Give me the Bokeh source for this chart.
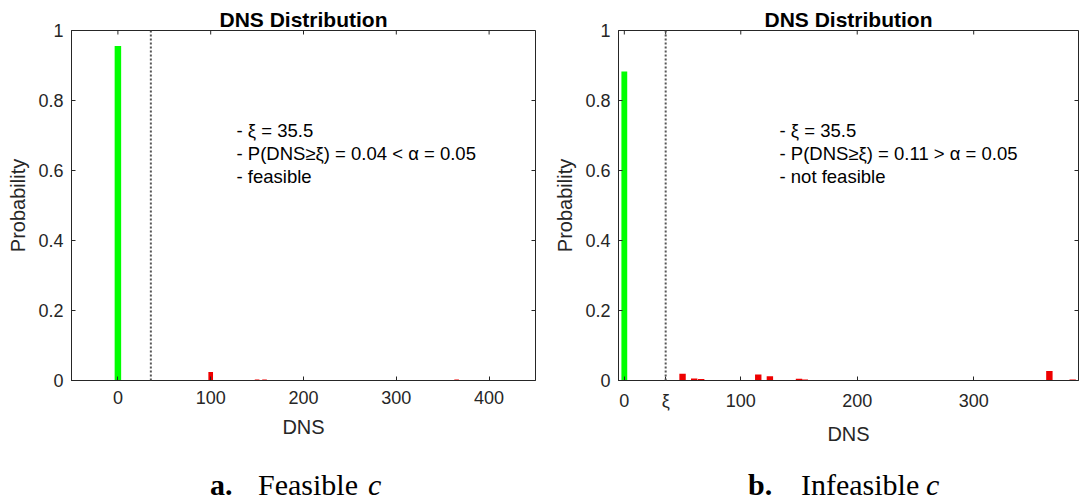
import math
from bokeh.plotting import figure
from bokeh.models import Range1d, FixedTicker, Span, Label, Div
from bokeh.layouts import row, column
from bokeh.embed import file_html
from bokeh.resources import INLINE

# ---------------- data ----------------
title_text = "DNS Distribution"
x_label = "DNS"
y_label = "Probability"
xi_value = 35.5

y_ticks = [0, 0.2, 0.4, 0.6, 0.8, 1]
y_tick_labels = ["0", "0.2", "0.4", "0.6", "0.8", "1"]

left_x_ticks = [0, 100, 200, 300, 400]
left_x_tick_labels = ["0", "100", "200", "300", "400"]
right_x_ticks = [0, 35.5, 100, 200, 300]
right_x_tick_labels = ["0", "ξ", "100", "200", "300"]

left_green_x = [0]
left_green_p = [0.956]
left_red_x = [100, 150, 158, 365]
left_red_p = [0.024, 0.003, 0.003, 0.003]

right_green_x = [0]
right_green_p = [0.883]
right_red_x = [50, 60, 66, 115, 125, 150, 155, 365, 385]
right_red_p = [0.019, 0.006, 0.004, 0.017, 0.012, 0.005, 0.003, 0.027, 0.003]

left_notes = ["- ξ = 35.5", "- P(DNS≥ξ) = 0.04 < α = 0.05", "- feasible"]
right_notes = ["- ξ = 35.5", "- P(DNS≥ξ) = 0.11 > α = 0.05", "- not feasible"]

left_caption = ["a.", "Feasible", "c"]
right_caption = ["b.", "Infeasible", "c"]

# ---------------- style ----------------
AX = "#262626"
SANS = "Liberation Sans"
GREEN = "#00ff00"
RED = "#ee0000"
FIG_H = 456
FRAME_TOP = 30
FRAME_BOTTOM = 380
FRAME_H = FRAME_BOTTOM - FRAME_TOP
CAP_H = 48


def make_panel(width, mb_left, mb_right, xr, xticks, xlabels, gx, gp, rx, rp,
               gw, rw, notes, note_x):
    p = figure(width=width, height=FIG_H, output_backend="svg", toolbar_location=None,
               x_range=Range1d(*xr), y_range=Range1d(0, 1),
               min_border_left=mb_left, min_border_right=mb_right,
               min_border_top=FRAME_TOP, min_border_bottom=FIG_H - FRAME_BOTTOM,
               background_fill_color="white", border_fill_color="white",
               outline_line_color=AX, outline_line_width=1)
    p.xgrid.visible = False
    p.ygrid.visible = False

    p.title.text = title_text
    p.title.align = "center"
    p.title.text_font = SANS
    p.title.text_font_size = "21px"
    p.title.text_font_style = "bold"
    p.title.text_color = "black"
    p.title.standoff = 0

    xover = {t: lab for t, lab in zip(xticks, xlabels)}
    yover = {t: lab for t, lab in zip(y_ticks, y_tick_labels)}

    for ax in p.xaxis:
        ax.ticker = FixedTicker(ticks=xticks)
        ax.major_label_overrides = xover
        ax.axis_label = x_label
        ax.major_label_standoff = 10
        ax.axis_label_standoff = 9
    for ax in p.yaxis:
        ax.ticker = FixedTicker(ticks=y_ticks)
        ax.major_label_overrides = yover
        ax.axis_label = y_label
        ax.major_label_standoff = 8
        ax.axis_label_standoff = 6
    for ax in list(p.xaxis) + list(p.yaxis):
        ax.axis_line_color = AX
        ax.major_tick_line_color = AX
        ax.major_tick_in = 4
        ax.major_tick_out = 0
        ax.minor_tick_line_color = None
        ax.major_label_text_font = SANS
        ax.major_label_text_font_size = "18px"
        ax.major_label_text_color = AX
        ax.axis_label_text_font = SANS
        ax.axis_label_text_font_size = "20px"
        ax.axis_label_text_font_style = "normal"
        ax.axis_label_text_color = AX

    # mirrored inward ticks on the top and right edges of the box
    p.scatter(x=xticks, y=[y_ticks[-1]] * len(xticks), marker="dash", size=8,
              angle=math.pi / 2, line_color=AX, line_width=1)
    p.scatter(x=[xr[1]] * len(y_ticks), y=y_ticks, marker="dash", size=8,
              line_color=AX, line_width=1)

    p.vbar(x=gx, top=gp, bottom=0, width=gw, fill_color=GREEN, line_color=None)
    p.vbar(x=rx, top=rp, bottom=0, width=rw, fill_color=RED, line_color=None)

    p.add_layout(Span(location=xi_value, dimension="height", line_color="#555555",
                      line_dash="2 2", line_width=2))

    for i, line in enumerate(notes):
        p.add_layout(Label(x=note_x, y=250 - 23 * i, x_units="screen", y_units="screen",
                           text=line, text_font=SANS, text_font_size="18.5px",
                           text_color="black", text_align="left",
                           text_baseline="alphabetic"))
    return p


def caption_div(parts, xs, width):
    styles = ["font-weight:bold;", "", "font-style:italic;"]
    spans = "".join(
        f'<span style="position:absolute; left:{x}px; top:14px; {st}">{t}</span>'
        for t, x, st in zip(parts, xs, styles))
    html = ('<div style="position:relative; width:%dpx; height:%dpx; margin:0; padding:0; '
            "font-family:'Liberation Serif', 'Times New Roman', serif; font-size:30px; "
            'line-height:30px; color:black; white-space:nowrap;">%s</div>'
            % (width, CAP_H, spans))
    return Div(text=html, width=width, height=CAP_H, margin=0)


LW, RW = 545, 536
p1 = make_panel(LW, 71, 10, (-50, 450), left_x_ticks, left_x_tick_labels,
                left_green_x, left_green_p, left_red_x, left_red_p, 7, 5,
                left_notes, 165)
p2 = make_panel(RW, 73, 3, (-5, 390), right_x_ticks, right_x_tick_labels,
                right_green_x, right_green_p, right_red_x, right_red_p, 5, 5.5,
                right_notes, 161)

d1 = caption_div(left_caption, [210, 258, 368], LW)
d2 = caption_div(right_caption, [203, 256, 381], RW)

layout = row(column(p1, d1, spacing=0), column(p2, d2, spacing=0), spacing=0)
open("out.html", "w").write(file_html(layout, INLINE))
